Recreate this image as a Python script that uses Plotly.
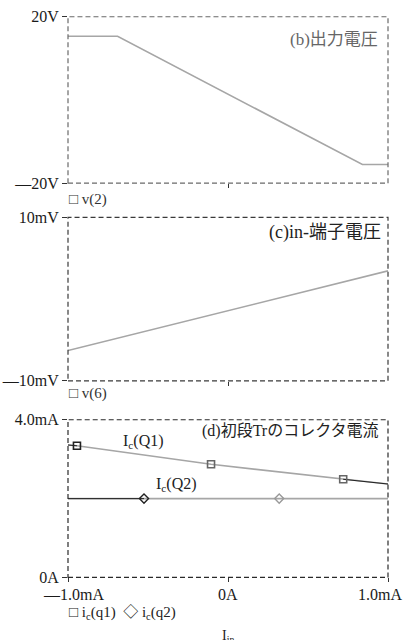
import plotly.graph_objects as go

# Input current sweep (mA) and simulated waveforms
iin_v2 = [-1.0, -0.69, 0.84, 1.0]
v2_out = [15.3, 15.3, -15.5, -15.5]          # V, output voltage

iin_v6 = [-1.0, 0.0, 1.0]
v6_inm = [-6.3, -1.4, 3.45]                  # mV, in- terminal voltage

iin_q1 = [-1.0, -0.944, -0.106, 0.72, 1.0]
ic_q1 = [3.36, 3.34, 2.87, 2.49, 2.37]       # mA
iin_q2 = [-1.0, -0.525, 0.32, 1.0]
ic_q2 = [2.0, 2.0, 2.0, 2.0]                 # mA

# trace marker positions
q1_mark_x = [-0.944, -0.106, 0.72]
q1_mark_y = [3.34, 2.87, 2.49]
q2_mark_x = [-0.525, 0.32]
q2_mark_y = [2.0, 2.0]

# axis labels
y1_ticks, y1_text = [-20, 20], ["—20V", "20V"]
y2_ticks, y2_text = [-10, 10], ["—10mV", "10mV"]
y3_ticks, y3_text = [0, 4.0], ["0A", "4.0mA"]
x_ticks, x_text = [-1.0, 0.0, 1.0], ["—1.0mA", "0A", "1.0mA"]

W, H = 407, 640
SERIF = "Liberation Serif, Noto Sans CJK JP, serif"
LINE = "#a6a6a6"
DARK = "#333333"


def px(x, y):
    return x / W, 1 - y / H


xdom = [68 / W, 388 / W]
doms = [[1 - 180 / H, 1 - 9 / H], [1 - 383 / H, 1 - 215 / H], [1 - 585 / H, 1 - 423 / H]]

fig = go.Figure()

# (b) output voltage
fig.add_trace(go.Scatter(x=iin_v2, y=v2_out, mode="lines", line=dict(color=LINE, width=1.6),
                         xaxis="x", yaxis="y"))
# (c) in- voltage
fig.add_trace(go.Scatter(x=iin_v6, y=v6_inm, mode="lines", line=dict(color=LINE, width=1.6),
                         xaxis="x2", yaxis="y2"))
# (d) collector currents
fig.add_trace(go.Scatter(x=iin_q1, y=ic_q1, mode="lines", line=dict(color=LINE, width=1.6),
                         xaxis="x3", yaxis="y3"))
fig.add_trace(go.Scatter(x=iin_q2, y=ic_q2, mode="lines", line=dict(color=LINE, width=1.6),
                         xaxis="x3", yaxis="y3"))
# darker printed segments
fig.add_trace(go.Scatter(x=iin_q1[3:], y=ic_q1[3:], mode="lines", line=dict(color="#222", width=1),
                         xaxis="x3", yaxis="y3"))
fig.add_trace(go.Scatter(x=iin_q1[:2], y=ic_q1[:2], mode="lines", line=dict(color="#222", width=1),
                         xaxis="x3", yaxis="y3"))
fig.add_trace(go.Scatter(x=iin_q2[:2], y=ic_q2[:2], mode="lines", line=dict(color="#222", width=1),
                         xaxis="x3", yaxis="y3"))
# markers
fig.add_trace(go.Scatter(x=q1_mark_x, y=q1_mark_y, mode="markers",
                         marker=dict(symbol="square-open", size=7, color=["#222", "#666", "#666"],
                                     line=dict(width=1.6)),
                         xaxis="x3", yaxis="y3"))
fig.add_trace(go.Scatter(x=q2_mark_x, y=q2_mark_y, mode="markers",
                         marker=dict(symbol="diamond-open", size=7, color=["#222", "#999"],
                                     line=dict(width=1.4)),
                         xaxis="x3", yaxis="y3"))

ax_common = dict(showgrid=False, zeroline=False, showline=False, ticks="outside",
                 ticklen=5, tickcolor=DARK, tickwidth=1,
                 tickfont=dict(family=SERIF, size=16, color="#1a1a1a"))

layout = dict(
    width=W, height=H, margin=dict(l=0, r=0, t=0, b=0),
    paper_bgcolor="white", plot_bgcolor="white", showlegend=False,
)
for i, (yt, ytx) in enumerate([(y1_ticks, y1_text), (y2_ticks, y2_text), (y3_ticks, y3_text)]):
    n = "" if i == 0 else str(i + 1)
    rng = [[-20, 20], [-10, 10], [0, 4.0]][i]
    layout["xaxis" + n] = dict(ax_common, domain=xdom, range=[-1.0, 1.0], anchor="y" + n,
                               tickvals=x_ticks if i == 2 else [0.0], showticklabels=False,
                               ticklen=4)
    layout["yaxis" + n] = dict(ax_common, domain=doms[i], range=rng, anchor="x" + n,
                               tickvals=yt, ticktext=ytx, ticklen=5)
fig.update_layout(**layout)

# dashed plot frames
for n, col in [("", "#6a6a6a"), ("2", "#3a3a3a"), ("3", "#2a2a2a")]:
    fig.add_shape(type="rect", xref=f"x{n} domain", yref=f"y{n} domain", x0=0, x1=1, y0=0, y1=1,
                  line=dict(color=col, width=1.2, dash="5px,3px"))

annots = []
# x tick labels on the bottom panel
for xv, txt, anc, sh in zip(x_ticks, x_text, ["center", "center", "right"], [5, 0, 16]):
    annots.append(dict(x=xv, y=px(0, 603)[1], xref="x3", yref="paper", text=txt, showarrow=False,
                       xanchor=anc, yanchor="middle", xshift=sh,
                       font=dict(family=SERIF, size=16, color="#1a1a1a")))


def note(text, x, y, anchor="left", size=13, color="#222"):
    xp, yp = px(x, y)
    annots.append(dict(x=xp, y=yp, xref="paper", yref="paper", text=text, showarrow=False,
                       xanchor=anchor, yanchor="middle",
                       font=dict(family=SERIF, size=size, color=color)))


note("□ v(2)", 67, 197, size=15, color="#333")
note("□ v(6)", 67, 396, size=15, color="#333")
note("□ i<sub>c</sub>(q1)  ◇ i<sub>c</sub>(q2)", 67, 621, size=15, color="#222")
note("I<sub>in</sub>", 228, 646, anchor="center", size=14)

note("(b)出力電圧", 380, 32, anchor="right", size=17, color="#666")
note("(c)in-端子電圧", 383, 231, anchor="right", size=18, color="#222")
note("(d)初段Trのコレクタ電流", 381, 435, anchor="right", size=16, color="#222")

note("I<sub>c</sub>(Q1)", 121, 445, size=16, color="#222")
note("I<sub>c</sub>(Q2)", 154, 490, size=16, color="#222")

fig.update_layout(annotations=annots)
fig.write_html("out.html")
